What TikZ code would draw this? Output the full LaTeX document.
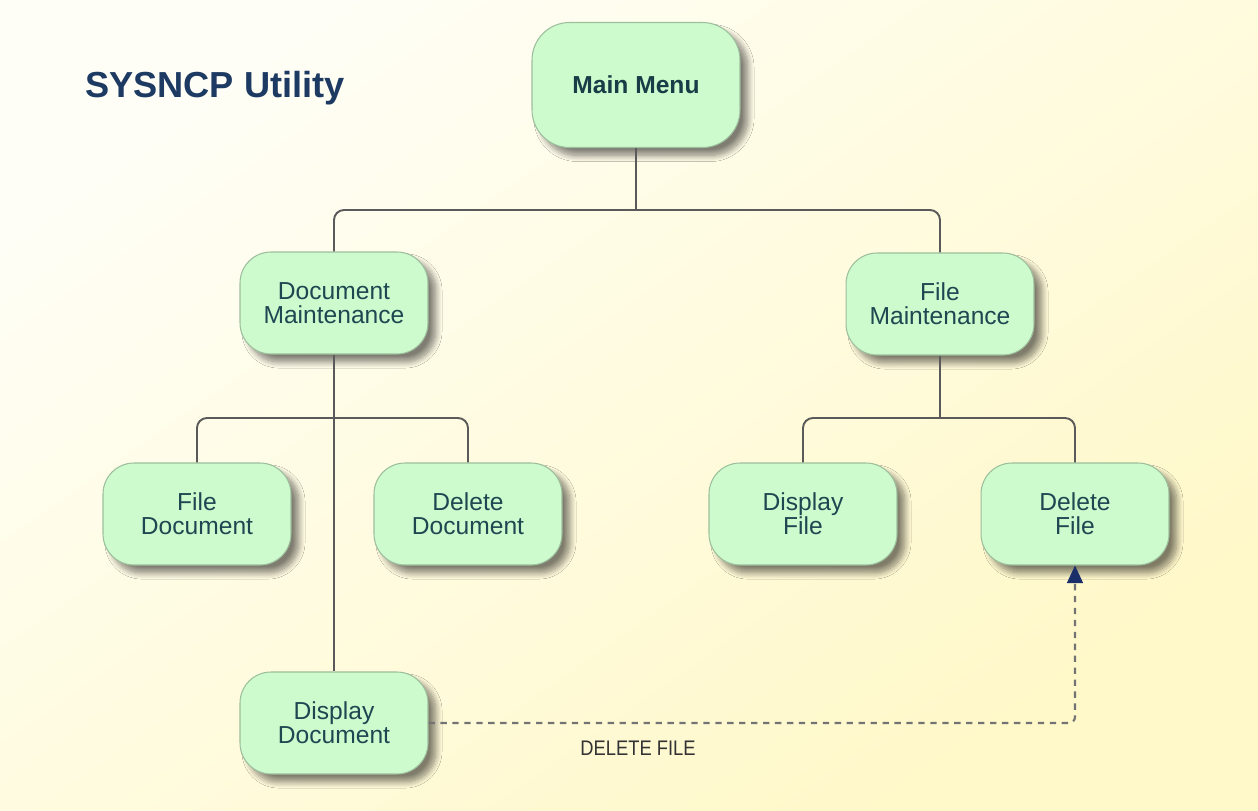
\documentclass[tikz,border=0pt]{standalone}
\usepackage{fontspec}
\setmainfont{Liberation Sans}
\usetikzlibrary{shadows.blur,arrows.meta}
\definecolor{bgA}{HTML}{FFFEF6}
\definecolor{bgB}{HTML}{FFF8C8}
\definecolor{boxfill}{HTML}{CDFBCD}
\definecolor{boxdraw}{HTML}{9DBF9D}
\definecolor{boxtext}{HTML}{1E4752}
\definecolor{titlec}{HTML}{1C3A62}
\definecolor{linec}{HTML}{5A5A5A}
\definecolor{arrowc}{HTML}{1A2E6A}
\definecolor{shadc}{HTML}{A86A30}
\tikzset{
  box/.style={draw=boxdraw, line width=0.6pt, rounded corners=0.62cm,
    minimum width=3.76cm, minimum height=2.04cm, align=center, text=boxtext,
    font=\fontsize{14}{13.6}\selectfont,
    blur shadow={shadow xshift=4.5pt, shadow yshift=-4.5pt, shadow blur steps=10, shadow blur radius=3.5pt, shadow blur extra rounding=2pt, shadow opacity=50, fill=shadc},
    fill=boxfill, inner sep=2pt},
  conn/.style={draw=linec, line width=1.1pt, rounded corners=0.2cm},
  dashconn/.style={draw=linec!85, line width=1.2pt, dash pattern=on 3.6pt off 3.2pt, rounded corners=0.12cm},
}
\begin{document}
\begin{tikzpicture}[x=0.02cm,y=-0.02cm]
\useasboundingbox (0,0) rectangle (1258,811);
\shade[top color=bgA, bottom color=bgB, shading angle=35] (0,0) rectangle (1258,811);
\node[anchor=base west, text=titlec, font=\bfseries\fontsize{20.6}{24}\selectfont] (title) at (79,98) {SYSNCP Utility};
\node[box, minimum width=4.16cm, minimum height=2.5cm, rounded corners=0.75cm, font=\bfseries\fontsize{14}{16}\selectfont, text=boxtext!85!black] (mm) at (636,85) {Main Menu};
\node[box] (dm) at (334,303) {Document\\Maintenance};
\node[box] (fm) at (940,304) {File\\Maintenance};
\node[box] (fd) at (197,514) {File\\Document};
\node[box] (ddel) at (468,514) {Delete\\Document};
\node[box] (dfile) at (803,514) {Display\\File};
\node[box] (delf) at (1075,514) {Delete\\File};
\node[box] (dd) at (334,723) {Display\\Document};
\coordinate (j1) at (636,210);
\coordinate (j2) at (334,418);
\coordinate (j3) at (940,418);
\draw[conn] (mm.south) -- (j1);
\draw[conn] (dm.north) |- (j1) -| (fm.north);
\draw[conn] (fd.north) |- (j2) -| (ddel.north);
\draw[conn] (dm.south) -- (dd.north);
\draw[conn] (fm.south) -- (j3);
\draw[conn] (dfile.north) |- (j3) -| (delf.north);
\draw[dashconn, -{Triangle[length=10pt,width=9pt,color=arrowc,fill=arrowc]}] (dd.east) -| (delf.south);
\node[text=black!80, font=\fontsize{12}{13}\selectfont, xscale=0.87] (lbl) at (638,748) {DELETE FILE};
\end{tikzpicture}
\end{document}
